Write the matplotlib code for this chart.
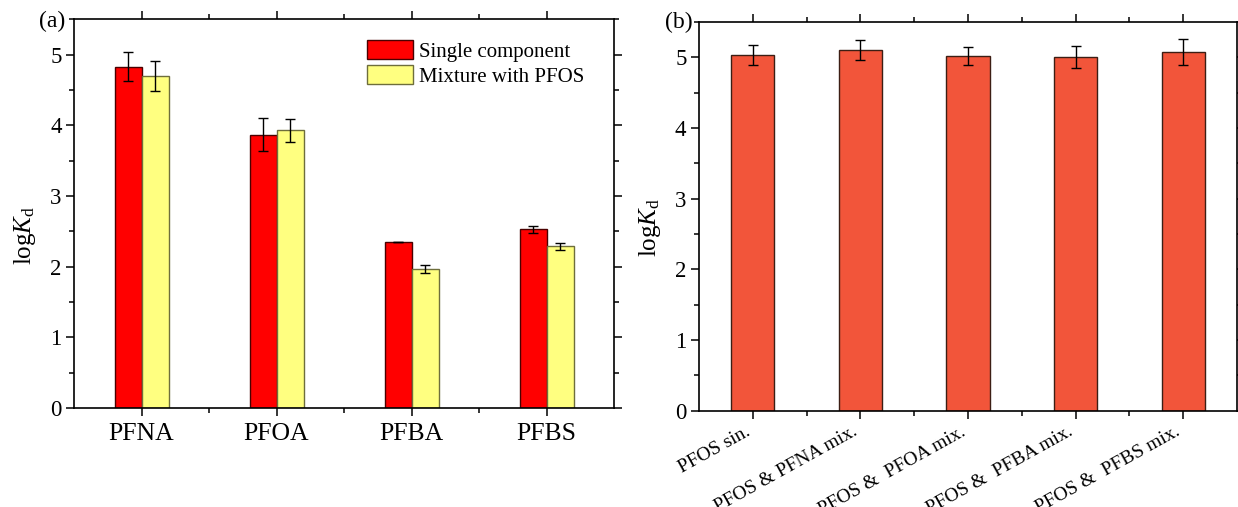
import numpy as np
import matplotlib
matplotlib.use("Agg")
import matplotlib.pyplot as plt
from matplotlib.ticker import MultipleLocator, FixedLocator

plt.rcParams["font.family"] = ["Liberation Serif", "DejaVu Serif"]
plt.rcParams["mathtext.fontset"] = "custom"
plt.rcParams["mathtext.rm"] = "Liberation Serif"
plt.rcParams["mathtext.it"] = "Liberation Serif:italic"

# (a) single-component vs. mixture sorption
compounds = ["PFNA", "PFOA", "PFBA", "PFBS"]
single_kd = [4.83, 3.87, 2.35, 2.53]
single_err = [0.20, 0.24, 0.005, 0.05]
mixture_kd = [4.70, 3.93, 1.97, 2.29]
mixture_err = [0.21, 0.16, 0.06, 0.05]

# (b) PFOS sorption alone and in binary mixtures
pfos_cases = ["PFOS sin.", "PFOS & PFNA mix.", "PFOS &  PFOA mix.",
              "PFOS &  PFBA mix.", "PFOS &  PFBS mix."]
pfos_kd = [5.03, 5.10, 5.02, 5.00, 5.07]
pfos_err = [0.135, 0.14, 0.125, 0.155, 0.185]

ylabel = r"log$\mathit{K}_{\mathrm{d}}$"


def style_axis(ax, n, label_xy):
    ax.set_xlim(-0.5, n - 0.5)
    ax.set_ylim(0, 5.5)
    ax.xaxis.set_major_locator(FixedLocator(np.arange(n)))
    ax.xaxis.set_minor_locator(FixedLocator(np.arange(n - 1) + 0.5))
    ax.yaxis.set_major_locator(MultipleLocator(1))
    ax.yaxis.set_minor_locator(MultipleLocator(0.5))
    ax.tick_params(which="both", direction="out", top=True, right=True,
                   width=1.1, labelsize=16.5, pad=3)
    ax.tick_params(which="major", length=6)
    ax.tick_params(which="minor", length=3.5)
    for sp in ax.spines.values():
        sp.set_linewidth(1.2)
    ax.set_ylabel(ylabel, fontsize=18)
    ax.yaxis.set_label_coords(*label_xy)


fig = plt.figure(figsize=(12.38, 5.07), dpi=100)
ax1 = fig.add_axes([0.0598, 0.195, 0.4362, 0.767])
ax2 = fig.add_axes([0.5646, 0.190, 0.4346, 0.767])

x = np.arange(len(compounds))
w = 0.2
err_kw = dict(ecolor="black", elinewidth=1, capsize=3.3, capthick=1)
ax1.bar(x - w / 2, single_kd, w, yerr=single_err, color="#ff0000",
        edgecolor="#4a0000", linewidth=1, label="Single component", error_kw=err_kw)
ax1.bar(x + w / 2, mixture_kd, w, yerr=mixture_err, color="#ffff80",
        edgecolor="#6e6e3c", linewidth=1, label="Mixture with PFOS", error_kw=err_kw)
style_axis(ax1, len(compounds), (-0.066, 0.445))
ax1.set_xticks(x)
ax1.set_xticklabels(compounds, fontsize=18.5)
ax1.tick_params(axis="x", which="major", pad=5)
ax1.legend(loc="upper left", bbox_to_anchor=(0.543, 0.947), frameon=False,
           fontsize=15, handlelength=2.2, handleheight=1.05,
           handletextpad=0.3, labelspacing=0.15, borderpad=0, borderaxespad=0)

x2 = np.arange(len(pfos_cases))
ax2.bar(x2, pfos_kd, 0.4, yerr=pfos_err, color="#f2553a",
        edgecolor="#3c1e14", linewidth=1, error_kw=err_kw)
style_axis(ax2, len(pfos_cases), (-0.066, 0.47))
ax2.set_xticks(x2)
ax2.set_xticklabels(pfos_cases, fontsize=14, rotation=29, ha="right")

fig.text(65 / 1238, 1 - 21.5 / 507, "(a)", fontsize=17, ha="right", va="center")
fig.text(693 / 1238, 1 - 22 / 507, "(b)", fontsize=17, ha="right", va="center")

fig.savefig("out.png", dpi=100)
